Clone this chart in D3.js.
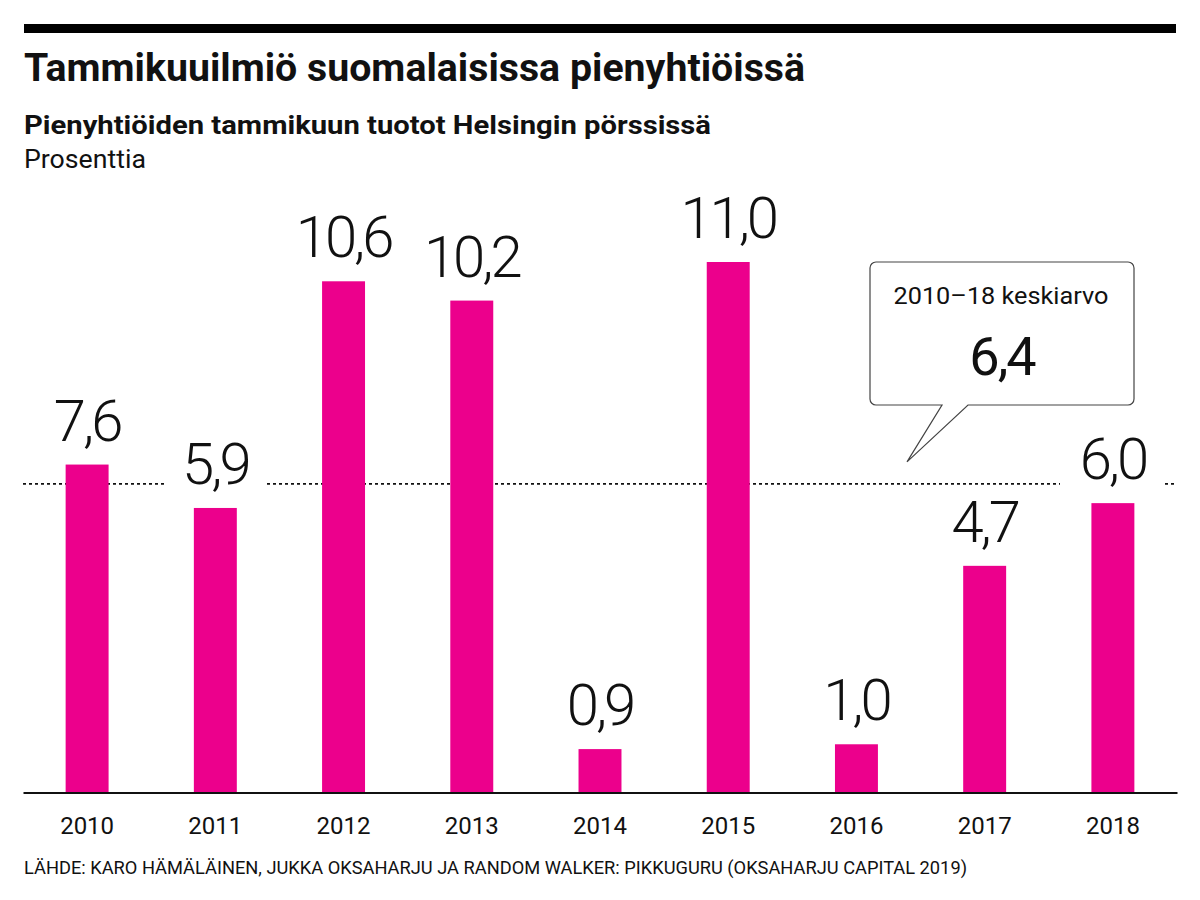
<!DOCTYPE html>
<html>
<head>
<meta charset="utf-8">
<script src="https://cdn.jsdelivr.net/npm/d3@7"></script>
<style>
  html, body { margin: 0; padding: 0; background: #fff; }
  svg { display: block; }
  text { font-family: Roboto, "Noto Sans", sans-serif; fill: #111; }
</style>
</head>
<body>
<script>
// ---- data ----
const years = ["2010", "2011", "2012", "2013", "2014", "2015", "2016", "2017", "2018"];
// bar heights as drawn in the picture (2010 bar is drawn lower than its label)
const barValues = [6.8, 5.9, 10.6, 10.2, 0.9, 11.0, 1.0, 4.7, 6.0];
const valueLabels = ["7,6", "5,9", "10,6", "10,2", "0,9", "11,0", "1,0", "4,7", "6,0"];
const average = 6.4;
const averageLabel = "6,4";
const averageTitle = "2010–18 keskiarvo";
const title = "Tammikuuilmiö suomalaisissa pienyhtiöissä";
const subtitle = "Pienyhtiöiden tammikuun tuotot Helsingin pörssissä";
const unit = "Prosenttia";
const source = "LÄHDE: KARO HÄMÄLÄINEN, JUKKA OKSAHARJU JA RANDOM WALKER: PIKKUGURU (OKSAHARJU CAPITAL 2019)";

// ---- layout ----
const W = 1200, H = 900;
const left = 23, right = 1177, baseline = 792.5;
const pink = "#ec008c";

const svg = d3.select("body").append("svg").attr("width", W).attr("height", H);

// top rule
svg.append("rect").attr("x", 24).attr("y", 24).attr("width", 1152).attr("height", 9).attr("fill", "#000");

svg.append("text").attr("x", 24).attr("y", 81)
  .attr("font-size", 38).attr("font-weight", 700)
  .attr("textLength", 781).attr("lengthAdjust", "spacingAndGlyphs")
  .text(title);
svg.append("text").attr("x", 24).attr("y", 134)
  .attr("font-size", 25).attr("font-weight", 700)
  .attr("textLength", 687).attr("lengthAdjust", "spacingAndGlyphs")
  .text(subtitle);
svg.append("text").attr("x", 24).attr("y", 168)
  .attr("font-size", 25).attr("font-weight", 400)
  .attr("textLength", 122).attr("lengthAdjust", "spacingAndGlyphs")
  .text(unit);

// scales
const x = d3.scaleBand().domain(years).range([left, right])
  .paddingInner(0.665).paddingOuter(0.3325);
const y = d3.scaleLinear().domain([0, 11]).range([baseline, 262]);

// average dashed line segments (gaps leave room for labels)
const avgY = y(average);
const segs = [[23, 164], [267, 1060], [1165, 1177]];
svg.append("g").selectAll("line").data(segs).join("line")
  .attr("x1", d => d[0]).attr("x2", d => d[1])
  .attr("y1", avgY).attr("y2", avgY)
  .attr("stroke", "#111").attr("stroke-width", 1.6)
  .attr("stroke-dasharray", "3,3");

// bars
svg.append("g").selectAll("rect").data(years).join("rect")
  .attr("x", d => x(d))
  .attr("width", x.bandwidth())
  .attr("y", (d, i) => y(barValues[i]))
  .attr("height", (d, i) => baseline - y(barValues[i]))
  .attr("fill", pink);

// value labels
svg.append("g").selectAll("text").data(years).join("text")
  .attr("x", d => x(d) + x.bandwidth() / 2)
  .attr("y", (d, i) => y(barValues[i]) - 24)
  .attr("text-anchor", "middle")
  .attr("font-size", 58).attr("font-weight", 300)
  .attr("letter-spacing", -3)
  .text((d, i) => valueLabels[i]);

// x axis
const axis = svg.append("g").attr("transform", `translate(0,${baseline})`)
  .call(d3.axisBottom(x).tickSize(0).tickPadding(24));
axis.select(".domain").attr("stroke", "#111").attr("stroke-width", 2);
axis.selectAll(".tick text")
  .attr("font-family", "Roboto, sans-serif").attr("font-size", 24).attr("fill", "#111")
  .attr("dy", "0.71em");

// callout
const bx0 = 870, bx1 = 1134, by0 = 262, by1 = 405, r = 6;
const tipX = 907, tipY = avgY - 22;
const p = d3.path();
p.moveTo(bx0 + r, by0);
p.lineTo(bx1 - r, by0);
p.arcTo(bx1, by0, bx1, by0 + r, r);
p.lineTo(bx1, by1 - r);
p.arcTo(bx1, by1, bx1 - r, by1, r);
p.lineTo(968, by1);
p.lineTo(tipX, tipY);
p.lineTo(942, by1);
p.lineTo(bx0 + r, by1);
p.arcTo(bx0, by1, bx0, by1 - r, r);
p.lineTo(bx0, by0 + r);
p.arcTo(bx0, by0, bx0 + r, by0, r);
p.closePath();
svg.append("path").attr("d", p.toString())
  .attr("fill", "#fff").attr("stroke", "#444").attr("stroke-width", 1.2);

svg.append("text").attr("x", 1001).attr("y", 304).attr("text-anchor", "middle")
  .attr("font-size", 24).attr("font-weight", 400)
  .attr("textLength", 215).attr("lengthAdjust", "spacingAndGlyphs")
  .text(averageTitle);
svg.append("text").attr("x", 1002).attr("y", 375).attr("text-anchor", "middle")
  .attr("font-size", 54).attr("font-weight", 400)
  .attr("letter-spacing", -2)
  .text(averageLabel);

// source
svg.append("text").attr("x", 24).attr("y", 874)
  .attr("font-size", 19).attr("font-weight", 400)
  .attr("textLength", 943).attr("lengthAdjust", "spacingAndGlyphs")
  .text(source);
</script>
</body>
</html>
